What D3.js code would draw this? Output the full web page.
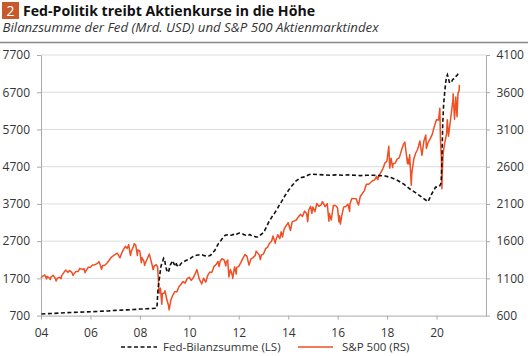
<!DOCTYPE html>
<html><head><meta charset="utf-8">
<script src="https://cdn.jsdelivr.net/npm/d3@7"></script>
<style>
html,body{margin:0;padding:0;background:#fff;}
svg{display:block;font-family:"Open Sans","Noto Sans",sans-serif;}
</style></head>
<body>
<svg id="c" width="528" height="356"></svg>
<script>
// ---- data ----
const titleText = "Fed-Politik treibt Aktienkurse in die Höhe";
const subtitleText = "Bilanzsumme der Fed (Mrd. USD) und S&P 500 Aktienmarktindex";
const leftTicks = [700,1700,2700,3700,4700,5700,6700,7700];
const rightTicks = [600,1100,1600,2100,2600,3100,3600,4100];
const xTickYears = [2004,2006,2008,2010,2012,2014,2016,2018,2020];
const legendLabels = ["Fed-Bilanzsumme (LS)","S&P 500 (RS)"];

const fedData = [
["2004-01-07",745],["2004-04-07",752],["2004-07-07",760],["2004-10-06",768],
["2005-01-05",778],["2005-04-06",785],["2005-07-06",790],["2005-10-05",798],
["2006-01-04",805],["2006-04-05",812],["2006-07-05",820],["2006-10-04",828],
["2007-01-03",840],["2007-04-04",848],["2007-07-04",855],["2007-10-03",862],
["2008-01-02",876],["2008-04-02",882],["2008-07-02",890],["2008-09-03",900],
["2008-09-10",930],["2008-09-24",1400],["2008-10-08",1600],["2008-10-22",1800],
["2008-11-05",2000],["2008-11-19",2100],["2008-12-03",2150],["2008-12-17",2240],
["2008-12-31",2210],["2009-01-14",2050],["2009-01-28",1940],["2009-02-11",1880],
["2009-02-25",1860],["2009-03-11",1960],["2009-03-25",2060],["2009-04-08",2100],
["2009-04-22",2170],["2009-05-06",2150],["2009-05-20",2080],["2009-06-03",2070],
["2009-06-17",2130],["2009-07-01",2050],["2009-07-15",2040],["2009-08-05",2010],
["2009-08-19",2070],["2009-09-02",2100],["2009-09-16",2130],["2009-10-14",2150],
["2009-11-11",2180],["2009-12-09",2200],["2010-01-13",2230],["2010-02-10",2270],
["2010-03-10",2300],["2010-04-14",2320],["2010-05-12",2330],["2010-06-16",2340],
["2010-07-14",2330],["2010-08-11",2310],["2010-09-15",2300],["2010-10-13",2300],
["2010-11-10",2320],["2010-12-15",2400],["2011-01-12",2450],["2011-02-09",2550],
["2011-03-09",2640],["2011-04-13",2720],["2011-05-11",2790],["2011-06-15",2860],
["2011-07-13",2870],["2011-08-10",2860],["2011-09-14",2860],["2011-10-12",2880],
["2011-11-09",2860],["2011-12-14",2900],["2012-01-11",2920],["2012-02-15",2910],
["2012-03-14",2880],["2012-04-11",2860],["2012-05-16",2850],["2012-06-13",2880],
["2012-07-11",2840],["2012-08-15",2830],["2012-09-12",2810],["2012-10-10",2810],
["2012-11-14",2860],["2012-12-12",2900],["2013-01-16",2980],["2013-02-13",3080],
["2013-03-13",3190],["2013-04-17",3300],["2013-05-15",3380],["2013-06-12",3450],
["2013-07-17",3550],["2013-08-14",3640],["2013-09-11",3720],["2013-10-16",3830],
["2013-11-13",3920],["2013-12-11",4000],["2014-01-15",4090],["2014-02-12",4160],
["2014-03-12",4220],["2014-04-16",4300],["2014-05-14",4340],["2014-06-11",4380],
["2014-07-16",4410],["2014-08-13",4420],["2014-09-10",4430],["2014-10-15",4470],
["2014-11-12",4490],["2014-12-10",4500],["2015-03-11",4490],["2015-06-10",4480],
["2015-09-09",4470],["2015-12-09",4480],["2016-03-09",4470],["2016-06-08",4480],
["2016-09-07",4470],["2016-12-07",4460],["2017-03-08",4470],["2017-06-07",4470],
["2017-09-06",4460],["2017-12-06",4450],["2018-03-07",4400],["2018-06-06",4330],
["2018-09-05",4230],["2018-12-05",4100],["2019-03-06",3990],["2019-06-05",3870],
["2019-08-28",3760],["2019-09-25",3860],["2019-10-16",3950],["2019-11-13",4040],
["2019-12-18",4150],["2020-01-15",4150],["2020-02-12",4170],["2020-03-04",4240],
["2020-03-11",4360],["2020-03-18",4670],["2020-03-25",5250],["2020-04-01",5810],
["2020-04-15",6370],["2020-04-29",6660],["2020-05-13",6930],["2020-05-27",7100],
["2020-06-10",7170],["2020-06-24",7090],["2020-07-08",6970],["2020-07-22",6960],
["2020-08-05",6950],["2020-08-19",7020],["2020-09-02",7050],["2020-09-16",7060],
["2020-10-07",7090],["2020-10-21",7140],["2020-11-04",7160],["2020-11-18",7210],
["2020-12-02",7250]
];

const spxData = [
["2004-01-02",1108],["2004-01-30",1131],["2004-02-27",1145],["2004-03-24",1091],["2004-03-31",1126],
["2004-04-30",1107],["2004-05-17",1084],["2004-05-28",1121],["2004-06-30",1141],["2004-07-30",1102],
["2004-08-12",1064],["2004-08-31",1104],["2004-09-30",1115],["2004-10-25",1095],["2004-10-29",1130],
["2004-11-30",1174],["2004-12-31",1212],["2005-01-31",1181],["2005-02-28",1204],["2005-03-31",1181],
["2005-04-20",1138],["2005-04-29",1157],["2005-05-31",1192],["2005-06-30",1191],["2005-07-29",1234],
["2005-08-31",1220],["2005-09-30",1229],["2005-10-13",1176],["2005-10-31",1207],["2005-11-30",1249],
["2005-12-30",1248],["2006-01-31",1280],["2006-02-28",1281],["2006-03-31",1295],["2006-04-28",1311],
["2006-05-05",1326],["2006-05-31",1270],["2006-06-13",1223],["2006-06-30",1270],["2006-07-31",1277],
["2006-08-31",1304],["2006-09-29",1336],["2006-10-31",1378],["2006-11-30",1401],["2006-12-29",1418],
["2007-01-31",1438],["2007-02-27",1400],["2007-03-14",1377],["2007-03-30",1421],["2007-04-30",1482],
["2007-05-31",1531],["2007-06-29",1503],["2007-07-19",1553],["2007-08-15",1406],["2007-08-31",1474],
["2007-09-28",1527],["2007-10-09",1565],["2007-10-31",1549],["2007-11-26",1407],["2007-11-30",1481],
["2007-12-31",1468],["2008-01-22",1310],["2008-01-31",1379],["2008-02-29",1331],["2008-03-10",1273],
["2008-03-31",1323],["2008-04-30",1386],["2008-05-19",1426],["2008-06-30",1280],["2008-07-15",1215],
["2008-07-31",1267],["2008-08-29",1283],["2008-09-19",1255],["2008-09-29",1106],["2008-10-10",899],
["2008-10-31",969],["2008-11-20",752],["2008-11-28",896],["2008-12-31",903],["2009-01-06",935],
["2009-01-30",826],["2009-02-27",735],["2009-03-09",677],["2009-03-31",798],["2009-04-30",873],
["2009-05-29",919],["2009-06-30",919],["2009-07-31",987],["2009-08-31",1021],["2009-09-30",1057],
["2009-10-30",1036],["2009-11-30",1096],["2009-12-31",1115],["2010-01-29",1074],["2010-02-26",1104],
["2010-03-31",1169],["2010-04-23",1217],["2010-05-28",1089],["2010-06-30",1031],["2010-07-02",1023],
["2010-07-30",1102],["2010-08-31",1049],["2010-09-30",1141],["2010-10-29",1183],["2010-11-30",1181],
["2010-12-31",1258],["2011-01-31",1286],["2011-02-28",1327],["2011-03-16",1257],["2011-03-31",1326],
["2011-04-29",1364],["2011-05-31",1345],["2011-06-24",1268],["2011-06-30",1321],["2011-07-22",1345],
["2011-08-08",1119],["2011-08-31",1219],["2011-09-30",1131],["2011-10-03",1099],["2011-10-31",1253],
["2011-11-25",1159],["2011-11-30",1247],["2011-12-30",1258],["2012-01-31",1312],["2012-02-29",1366],
["2012-04-02",1419],["2012-04-30",1398],["2012-06-01",1278],["2012-06-29",1362],["2012-07-31",1379],
["2012-08-31",1407],["2012-09-14",1466],["2012-10-31",1412],["2012-11-15",1353],["2012-11-30",1416],
["2012-12-31",1426],["2013-01-31",1498],["2013-02-28",1515],["2013-03-28",1569],["2013-04-30",1598],
["2013-05-21",1669],["2013-06-24",1573],["2013-06-28",1606],["2013-07-31",1686],["2013-08-30",1633],
["2013-09-18",1725],["2013-10-08",1656],["2013-10-31",1757],["2013-11-29",1806],["2013-12-31",1848],
["2014-02-03",1742],["2014-02-28",1859],["2014-03-31",1872],["2014-04-30",1884],["2014-05-30",1924],
["2014-06-30",1960],["2014-07-31",1931],["2014-08-29",2003],["2014-09-30",1972],["2014-10-15",1862],
["2014-10-31",2018],["2014-11-28",2068],["2014-12-16",1973],["2014-12-31",2059],["2015-01-30",1995],
["2015-02-27",2105],["2015-03-31",2068],["2015-04-30",2086],["2015-05-21",2131],["2015-06-30",2063],
["2015-07-31",2104],["2015-08-25",1868],["2015-08-31",1972],["2015-09-29",1884],["2015-10-30",2079],
["2015-11-30",2080],["2015-12-31",2044],["2016-01-20",1859],["2016-01-29",1940],["2016-02-11",1829],
["2016-02-29",1932],["2016-03-31",2060],["2016-04-29",2065],["2016-05-31",2097],["2016-06-27",2001],
["2016-06-30",2099],["2016-07-29",2174],["2016-08-31",2171],["2016-09-30",2168],["2016-11-04",2085],
["2016-11-30",2199],["2016-12-30",2239],["2017-01-31",2279],["2017-02-28",2364],["2017-03-31",2363],
["2017-04-28",2384],["2017-05-31",2412],["2017-06-30",2423],["2017-07-31",2470],["2017-08-18",2426],
["2017-08-31",2472],["2017-09-29",2519],["2017-10-31",2575],["2017-11-30",2648],["2017-12-29",2674],
["2018-01-26",2873],["2018-02-08",2581],["2018-02-28",2714],["2018-03-23",2588],["2018-03-29",2641],
["2018-04-30",2648],["2018-05-31",2705],["2018-06-29",2718],["2018-07-31",2816],["2018-08-31",2902],
["2018-09-20",2930],["2018-10-29",2641],["2018-10-31",2712],["2018-11-23",2633],["2018-11-30",2760],
["2018-12-24",2351],["2018-12-31",2507],["2019-01-31",2704],["2019-02-28",2784],["2019-03-29",2834],
["2019-04-30",2946],["2019-05-31",2752],["2019-06-28",2942],["2019-07-26",3026],["2019-08-05",2845],
["2019-08-30",2926],["2019-09-30",2977],["2019-10-31",3038],["2019-11-29",3141],["2019-12-31",3231],
["2020-01-31",3226],["2020-02-19",3386],["2020-02-28",2954],["2020-03-13",2711],["2020-03-20",2305],
["2020-03-27",2541],["2020-04-09",2790],["2020-04-30",2912],["2020-05-29",3044],["2020-06-08",3232],
["2020-06-26",3009],["2020-07-31",3271],["2020-08-31",3500],["2020-09-02",3580],["2020-09-23",3237],
["2020-10-12",3535],["2020-10-30",3270],["2020-11-13",3585],["2020-11-30",3622],["2020-12-04",3699]
];

// ---- chart ----
const parse = d3.timeParse("%Y-%m-%d");
const fed = fedData.map(d => ({date: parse(d[0]), v: d[1]}));
const spx = spxData.map(d => ({date: parse(d[0]), v: d[1]}));

const L = 41, R = 486, T = 55, B = 315.6;
const svg = d3.select("#c");

const x = d3.scaleTime().domain([new Date(2004,0,1), new Date(2022,0,1)]).range([L, R]);
const yL = d3.scaleLinear().domain([700, 7700]).range([B, T]);
const yR = d3.scaleLinear().domain([600, 4100]).range([B, T]);

// header
svg.append("rect").attr("x",2).attr("y",2).attr("width",17).attr("height",17).attr("fill","#c8592a");
svg.append("text").attr("x",10.5).attr("y",16).attr("text-anchor","middle")
  .attr("fill","#fff").attr("font-size",14).text("2");
svg.append("text").attr("x",23).attr("y",15.5).attr("font-size",14.5).attr("font-weight","bold")
  .attr("fill","#111").attr("textLength",292).attr("lengthAdjust","spacingAndGlyphs").text(titleText);
svg.append("text").attr("x",2.5).attr("y",31.5).attr("font-size",12.5).attr("font-style","italic")
  .attr("fill","#333").attr("textLength",376).attr("lengthAdjust","spacingAndGlyphs").text(subtitleText);
svg.append("line").attr("x1",0).attr("x2",528).attr("y1",42.5).attr("y2",42.5)
  .attr("stroke","#888").attr("stroke-width",1.5);

// gridlines
svg.append("g").selectAll("line").data(leftTicks.slice(1)).join("line")
  .attr("x1",L).attr("x2",R).attr("y1",d=>yL(d)).attr("y2",d=>yL(d))
  .attr("stroke","#dcdcdc").attr("stroke-width",1);

function styleAxis(g){
  g.selectAll(".domain").attr("stroke","#aaa");
  g.selectAll(".tick line").attr("stroke","#aaa");
  g.selectAll(".tick text").attr("fill","#333").attr("font-size",12)
    .attr("font-family","'Open Sans','Noto Sans',sans-serif");
}

svg.append("g").attr("transform",`translate(${L},0)`)
  .call(d3.axisLeft(yL).tickValues(leftTicks).tickFormat(d3.format("d")).tickSizeInner(4).tickSizeOuter(0).tickPadding(7))
  .call(styleAxis);
svg.append("g").attr("transform",`translate(${R},0)`)
  .call(d3.axisRight(yR).tickValues(rightTicks).tickFormat(d3.format("d")).tickSizeInner(4).tickSizeOuter(0).tickPadding(6.5))
  .call(styleAxis);
svg.append("g").attr("transform",`translate(0,${B})`)
  .call(d3.axisBottom(x).tickValues(xTickYears.map(y=>new Date(y,0,1)))
    .tickFormat(d=>d3.timeFormat("%y")(d)).tickSizeInner(4).tickSizeOuter(0).tickPadding(8.5))
  .call(styleAxis);

// lines
const lineSpx = d3.line().x(d=>x(d.date)).y(d=>yR(d.v));
const lineFed = d3.line().x(d=>x(d.date)).y(d=>yL(d.v));
svg.append("path").datum(spx).attr("d",lineSpx).attr("fill","none")
  .attr("stroke","#f04e23").attr("stroke-width",1.5).attr("stroke-linejoin","round");
svg.append("path").datum(fed).attr("d",lineFed).attr("fill","none")
  .attr("stroke","#111").attr("stroke-width",1.6).attr("stroke-dasharray","4,2.5");

// legend
const lg = svg.append("g");
lg.append("line").attr("x1",121).attr("x2",157).attr("y1",347).attr("y2",347)
  .attr("stroke","#111").attr("stroke-width",1.6).attr("stroke-dasharray","4,2.5");
lg.append("text").attr("x",163).attr("y",351).attr("font-size",11.5).attr("fill","#333").text(legendLabels[0]);
lg.append("line").attr("x1",298).attr("x2",333).attr("y1",347).attr("y2",347)
  .attr("stroke","#f04e23").attr("stroke-width",1.5);
lg.append("text").attr("x",342).attr("y",351).attr("font-size",11.5).attr("fill","#333").text(legendLabels[1]);
</script>
</body></html>
